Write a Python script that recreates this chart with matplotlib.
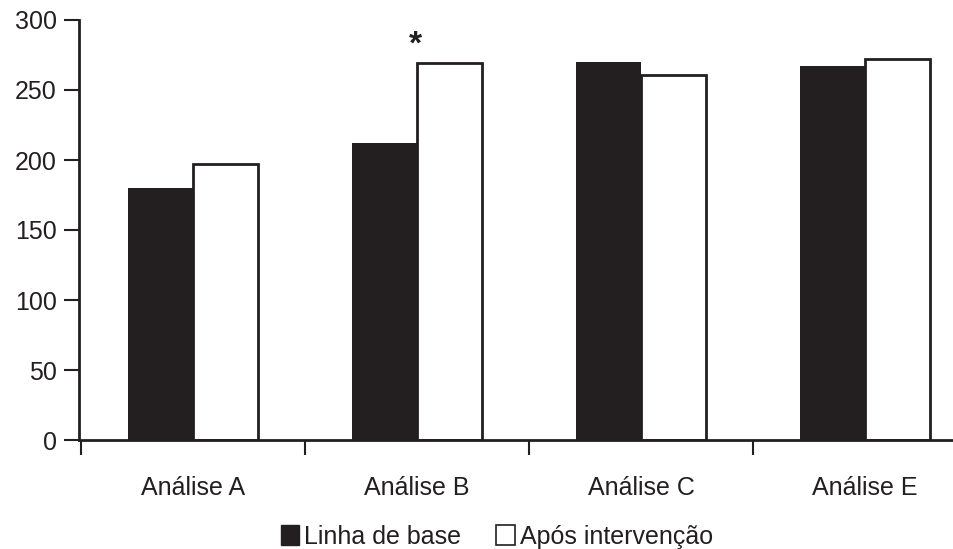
import matplotlib
matplotlib.use('Agg')
import matplotlib.pyplot as plt
from matplotlib.patches import Patch
import numpy as np

plt.rcParams['font.family'] = ['Liberation Sans', 'DejaVu Sans']

categories = ['Análise A', 'Análise B', 'Análise C', 'Análise E']
baseline = [180, 212, 270, 267]
after = [197, 269, 261, 272]
yticks = [0, 50, 100, 150, 200, 250, 300]
star_value = 282

ink = '#231f20'
x = np.arange(len(categories))
w = 0.29

fig = plt.figure(figsize=(9.54, 5.49), dpi=100)
ax = fig.add_axes([79/954, 1-440/549, 1-79/954, 420/549])

ax.bar(x - w/2, baseline, width=w, color=ink, edgecolor=ink, linewidth=0)
ax.bar(x + w/2, after, width=w, color='white', edgecolor=ink, linewidth=2)
ax.text(x[1] - 0.01, star_value, '*', ha='center', va='center', fontsize=24,
        fontweight='bold', color=ink)

ax.set_ylim(0, 300)
ax.set_xlim(-0.51, -0.51 + (954-79)/224)
ax.set_yticks(yticks)
ax.set_xticks(x - 0.5, minor=False)
ax.set_xticklabels([])
ax.set_xticks(x, minor=True)
ax.set_xticklabels(categories, minor=True)
ax.tick_params(axis='x', which='minor', length=0, pad=26, labelsize=18, colors=ink)
ax.tick_params(axis='x', which='major', length=11, width=1.5, color=ink)
ax.tick_params(axis='y', length=11, width=1.5, color=ink, labelsize=18, labelcolor=ink, pad=5)
for s in ['top', 'right']:
    ax.spines[s].set_visible(False)
for s in ['left', 'bottom']:
    ax.spines[s].set_linewidth(2)
    ax.spines[s].set_color(ink)

handles = [Patch(facecolor=ink, edgecolor=ink, label='Linha de base'),
           Patch(facecolor='white', edgecolor=ink, linewidth=1.2, label='Após intervenção')]
fig.legend(handles=handles, loc='center', bbox_to_anchor=(497/954, 1-537/549), ncol=2,
           frameon=False, fontsize=18, handlelength=0.75, handleheight=0.85,
           handletextpad=0.2, columnspacing=1.4, labelcolor=ink)

fig.savefig('out.png', dpi=100)
